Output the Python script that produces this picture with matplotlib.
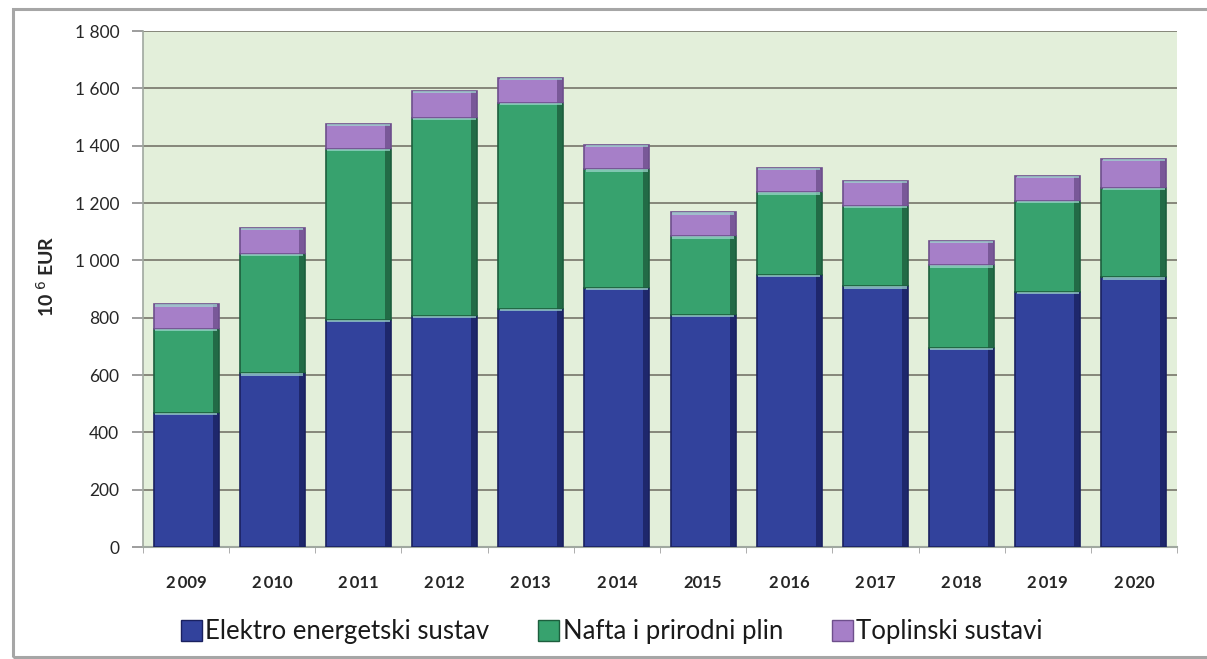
import matplotlib
matplotlib.use("Agg")
import matplotlib.pyplot as plt
from matplotlib.patches import Patch, Rectangle
import numpy as np

plt.rcParams['font.family'] = ['Lato', 'DejaVu Sans']

years = ["2\u2009009", "2\u2009010", "2\u2009011", "2\u2009012", "2\u2009013", "2\u2009014",
         "2015", "2\u2009016", "2\u2009017", "2\u2009018", "2\u2009019", "2\u2009020"]
elektro = [468, 606, 792, 807, 830, 905, 810, 950, 909, 695, 889, 941]
nafta = [294, 416, 598, 690, 720, 412, 274, 287, 282, 287, 319, 311]
toplinski = [84, 91, 86, 93, 87, 85, 83, 85, 87, 87, 87, 102]
series_names = ["Elektro energetski sustav", "Nafta i prirodni plin", "Toplinski sustavi"]
yticks = [0, 200, 400, 600, 800, 1000, 1200, 1400, 1600, 1800]

colors = ["#32429c", "#37a26e", "#a67fc8"]
dark = ["#1a2160", "#1d5e3d", "#6e4f8c"]

W, H = 1207, 659
fig = plt.figure(figsize=(W / 100, H / 100), dpi=100)
fig.patch.set_facecolor("white")

# outer frame
fig.patches.append(Rectangle((13 / W, 2 / H), 1.2, 648 / H, transform=fig.transFigure,
                             fill=False, edgecolor="#a6a6a6", linewidth=2.2, zorder=0))

ax = fig.add_axes([143 / W, (H - 547) / H, 1034 / W, (547 - 31) / H])
ax.set_facecolor("#e3efda")

x = np.arange(len(years))
bw = 0.755
bottoms = np.zeros(len(years))
for vals, c, d in zip([elektro, nafta, toplinski], colors, dark):
    vals = np.array(vals, dtype=float)
    ax.bar(x, vals, bw, bottom=bottoms, color=c, edgecolor=d, linewidth=1.2, zorder=3)
    # darker right side shading
    ax.bar(x + bw / 2 - 0.035, vals, 0.07, bottom=bottoms, color=d, linewidth=0, zorder=4, alpha=0.8)
    # light top bevel line
    ax.bar(x, np.full(len(x), 8.0), bw * 0.96, bottom=bottoms + vals - 8,
           color="#9fd8cf", linewidth=0, zorder=4, alpha=0.7)
    bottoms = bottoms + vals

ax.set_xlim(-0.5, len(years) - 0.5)
ax.set_ylim(0, 1800)
ax.set_yticks(yticks)
ax.set_yticklabels([f"{v:,}".replace(",", " ") for v in yticks])
ax.yaxis.grid(True, color="#7f7f72", linewidth=1.3, zorder=1)
ax.set_axisbelow(True)

ax.set_xticks(x)
ax.set_xticklabels(years)
ax.set_xticks(np.arange(-0.5, len(years)), minor=True)
ax.tick_params(axis="x", which="major", length=0, pad=20, labelsize=12, labelcolor="#262626")
ax.tick_params(axis="x", which="minor", length=4, color="#a0a0a0", direction="out")
ax.tick_params(axis="y", length=8, width=1.2, color="#8c8c8c", pad=9, labelsize=12.5, labelcolor="#262626")
for lab in ax.get_xticklabels():
    lab.set_fontweight("bold")

for s in ["top", "right"]:
    ax.spines[s].set_visible(False)
ax.spines["left"].set_color("#a0a8a0")
ax.spines["bottom"].set_color("#a0a8a0")
ax.spines["left"].set_linewidth(1.2)
ax.spines["bottom"].set_linewidth(1.5)

fig.text(46 / W, 1 - 276 / H, r"10$^{\ 6}$ EUR", rotation=90, ha="center", va="center",
         fontsize=14, fontweight="bold", color="#262626")

handles = [Patch(facecolor=c, edgecolor=d, linewidth=1) for c, d in zip(colors, dark)]
leg = fig.legend(handles, series_names, loc="center", bbox_to_anchor=(612 / W, 1 - 632 / H),
                 ncol=3, frameon=False, fontsize=18.5, handlelength=0.8, handleheight=0.9,
                 handletextpad=0.15, columnspacing=1.9)
for t in leg.get_texts():
    t.set_color("#1a1a1a")

fig.savefig("out.png", dpi=100)
